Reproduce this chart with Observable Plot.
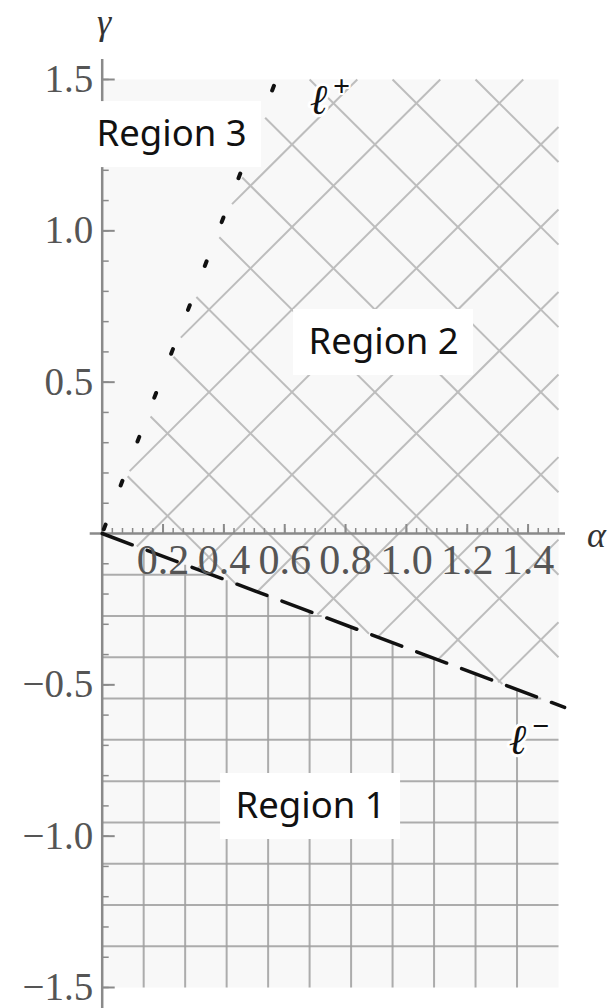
<!DOCTYPE html>
<html><head><meta charset="utf-8">
<script src="https://cdn.jsdelivr.net/npm/d3@7"></script>
<script src="https://cdn.jsdelivr.net/npm/@observablehq/plot@0.6"></script>
<style>body{margin:0;background:#fff}#chart svg{display:block;overflow:visible}</style>
</head><body><div id="chart"></div>
<script>
// ---- data ----
const alphaTicks = [0.2, 0.4, 0.6, 0.8, 1.0, 1.2, 1.4];
const alphaTickLabels = ["0.2", "0.4", "0.6", "0.8", "1.0", "1.2", "1.4"];
const gammaTicks = [-1.5, -1.0, -0.5, 0.5, 1.0, 1.5];
const gammaTickLabels = ["−1.5", "−1.0", "−0.5", "0.5", "1.0", "1.5"];
const lMinusSlope = -0.378;          // ℓ⁻ : γ = -0.378 α
const lPlusSlope = 2.62;             // ℓ⁺ : γ = 2.62 α
const lMinusAlpha = [0, 1.52];
const lPlusGamma = [0, 1.5];
const regionNames = ["Region 1", "Region 2", "Region 3"];
const regionAlpha = [0.685, 0.925, 0.228];
const regionGamma = [-0.902, 0.631, 1.318];
const lineLabelSup = ["+", "−"];
const lineLabelAlpha = [0.711, 1.365];
const lineLabelGamma = [1.43, -0.684];
const hatchOffset = 0.116;           // offset of the "/" hatch family
const hatchGap = 0.03;               // hatch stops a little right of ℓ⁺

// ---- layout ----
const W = 611, H = 1008;
const mL = 101.7, mR = 53, mT = 79, mB = 21;
const xDom = [0, 1.5], yDom = [-1.5, 1.5];
const pxA = (W - mL - mR) / (xDom[1] - xDom[0]);
const pxG = (H - mT - mB) / (yDom[1] - yDom[0]);

// ---- clipping of pattern lines to convex regions ----
function clip(p0, d, planes) {
  let t0 = -1e9, t1 = 1e9;
  for (const [a, b, c] of planes) {
    const f0 = a * p0[0] + b * p0[1] + c;
    const fd = a * d[0] + b * d[1];
    if (Math.abs(fd) < 1e-12) { if (f0 < 0) return null; continue; }
    const t = -f0 / fd;
    if (fd > 0) t0 = Math.max(t0, t); else t1 = Math.min(t1, t);
  }
  if (t1 <= t0) return null;
  return {x1: p0[0] + t0 * d[0], y1: p0[1] + t0 * d[1], x2: p0[0] + t1 * d[0], y2: p0[1] + t1 * d[1]};
}
const region1 = [[lMinusSlope, -1, 0], [0, 1, -yDom[0]], [1, 0, 0], [-1, 0, xDom[1]]];
const region2 = [[-lMinusSlope, 1, 0], [lPlusSlope, -1, -hatchGap], [-1, 0, xDom[1]], [0, -1, yDom[1]], [1, 0, 0]];
const step = 1.5 / 11;
const gridSegs = [];
for (let i = 1; i <= 10; i++) {
  const v = clip([i * step, 0], [0, 1], region1); if (v) gridSegs.push(v);
  const h = clip([0, -i * step], [1, 0], region1); if (h) gridSegs.push(h);
}
const hatchSegs = [];
for (let k = 1; k <= 10; k++) { const s = clip([0, k * 2 * step], [1, -1], region2); if (s) hatchSegs.push(s); }
for (let k = -8; k <= 3; k++) { const s = clip([0, hatchOffset + k * 2 * step], [1, 1], region2); if (s) hatchSegs.push(s); }

const lMinus = lMinusAlpha.map(a => ({a, g: lMinusSlope * a}));
const lPlus = lPlusGamma.map(g => ({a: g / lPlusSlope, g}));
const regions = regionNames.map((name, i) => ({name, a: regionAlpha[i], g: regionGamma[i]}));
const lineLabels = lineLabelSup.map((s, i) => ({s, a: lineLabelAlpha[i], g: lineLabelGamma[i]}));
const xTicks = alphaTicks.map((v, i) => ({v, t: alphaTickLabels[i]}));
const yTicks = gammaTicks.map((v, i) => ({v, t: gammaTickLabels[i]}));
const yMinor = d3.range(-15, 16).map(i => i / 10).filter(v => v !== 0);
const xMinor = d3.range(1, 46).map(i => i / 30);

const serif = "'Liberation Serif', 'DejaVu Serif', serif";
const chart = Plot.plot({
  width: W, height: H,
  marginLeft: mL, marginRight: mR, marginTop: mT, marginBottom: mB,
  x: {domain: xDom, axis: null},
  y: {domain: yDom, axis: null},
  style: {background: "white"},
  marks: [
    Plot.frame({fill: "#f8f8f8", stroke: null}),
    Plot.link(gridSegs, {x1: "x1", y1: "y1", x2: "x2", y2: "y2", stroke: "#9f9f9f", strokeWidth: 2, strokeOpacity: 0.85}),
    Plot.link(hatchSegs, {x1: "x1", y1: "y1", x2: "x2", y2: "y2", stroke: "#bdbdbd", strokeWidth: 2}),
    // axes
    Plot.ruleY([0], {x1: -12 / pxA, x2: xDom[1] + 7 / pxA, stroke: "#8a8a8a", strokeWidth: 2.5}),
    Plot.ruleX([0], {y1: yDom[0] - 25 / pxG, y2: yDom[1] + 20 / pxG, stroke: "#8a8a8a", strokeWidth: 2.5}),
    Plot.ruleY(yMinor, {x1: 0, x2: 7 / pxA, stroke: "#8a8a8a", strokeWidth: 1.5}),
    Plot.ruleY(gammaTicks, {x1: 0, x2: 13 / pxA, stroke: "#8a8a8a", strokeWidth: 2}),
    Plot.ruleX(xMinor, {y1: 0, y2: 5 / pxG, stroke: "#8a8a8a", strokeWidth: 1.5}),
    Plot.ruleX(alphaTicks, {y1: 0, y2: 9 / pxG, stroke: "#8a8a8a", strokeWidth: 2}),
    // boundary lines
    Plot.line(lMinus, {x: "a", y: "g", stroke: "#111", strokeWidth: 3.5, strokeDasharray: "32 16"}),
    Plot.line(lPlus, {x: "a", y: "g", stroke: "#111", strokeWidth: 4, strokeDasharray: "5 42", strokeDashoffset: 42.5}),
    // tick labels
    Plot.text(yTicks, {x: 0, y: "v", text: "t", dx: -9, textAnchor: "end", fontFamily: serif, fontSize: 39, fill: "#555"}),
    Plot.text(xTicks, {x: "v", y: 0, text: "t", dy: 27, fontFamily: serif, fontSize: 42, fill: "#555"}),
    // axis names
    Plot.text(["γ"], {x: 0, y: yDom[1], dx: 2, dy: -57, text: d => d, fontFamily: serif, fontStyle: "italic", fontSize: 36, fill: "#333"}),
    Plot.text(["α"], {x: xDom[1], y: 0, dx: 38, dy: 2, text: d => d, fontFamily: serif, fontStyle: "italic", fontSize: 36, fill: "#333"}),
    // region labels with white boxes
    Plot.rect(regions, {x1: "a", x2: "a", y1: "g", y2: "g", insetLeft: -90, insetRight: -90, insetTop: -33, insetBottom: -33, fill: "white"}),
    Plot.text(regions, {x: "a", y: "g", text: "name", fontFamily: "'Noto Sans', 'Liberation Sans', sans-serif", fontSize: 36.5, fill: "#111"}),
    // ℓ labels
    Plot.text(lineLabels, {x: "a", y: "g", text: () => "ℓ", fontFamily: serif, fontStyle: "italic", fontSize: 42, fill: "#111", stroke: "white", strokeWidth: 6, paintOrder: "stroke"}),
    Plot.text(lineLabels, {x: "a", y: "g", text: "s", dx: 23, dy: -14, fontFamily: serif, fontSize: 30, fontWeight: "bold", fill: "#111", stroke: "white", strokeWidth: 4, paintOrder: "stroke"})
  ]
});
document.getElementById("chart").appendChild(chart);
</script>
</body></html>
